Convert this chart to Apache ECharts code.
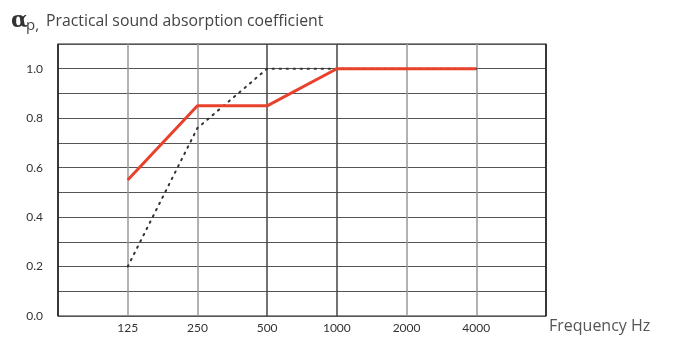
<!DOCTYPE html>
<html>
<head>
<meta charset="utf-8">
<script src="https://cdn.jsdelivr.net/npm/echarts@6/dist/echarts.min.js"></script>
<style>html,body{margin:0;padding:0;background:#fff}#c{width:682px;height:362px}</style>
</head>
<body>
<div id="c"></div>
<script>
const categories = ['', '125', '250', '500', '1000', '2000', '4000', ''];
const solidValues = [null, 0.55, 0.85, 0.85, 1.0, 1.0, 1.0, null];
const dottedValues = [null, 0.2, 0.76, 1.0, 1.0, 1.0, 1.0, null];
const yTicks = [0, 0.2, 0.4, 0.6, 0.8, 1.0];

const chart = echarts.init(document.getElementById('c'));
const font = 'Lato, "DejaVu Sans", sans-serif';
const tfont = '"Open Sans", Lato, sans-serif';
chart.setOption({
  animation: false,
  backgroundColor: '#fff',
  grid: {left: 58, right: 136, top: 44, bottom: 46, show: true, borderColor: '#222', borderWidth: 1.2},
  graphic: [
    {type: 'text', left: 11, top: 10, style: {text: 'α', font: 'bold 22px "DejaVu Serif", serif', fill: '#333'}},
    {type: 'text', left: 26, top: 18, style: {text: 'p,', font: '15px ' + tfont, fill: '#444'}},
    {type: 'text', left: 46, top: 13, style: {text: 'Practical sound absorption coefficient', font: '15.8px ' + tfont, fill: '#444'}},
    {type: 'text', left: 549, top: 318, style: {text: 'Frequency Hz', font: '16px ' + tfont, fill: '#555'}}
  ],
  xAxis: {
    type: 'category', data: categories, boundaryGap: false,
    axisLine: {show: false}, axisTick: {show: false},
    axisLabel: {color: '#333', fontFamily: font, fontSize: 12, margin: 6, interval: 0},
    splitLine: {show: true, lineStyle: {color: ['#222', '#999', '#999', '#444', '#444', '#999', '#999', '#222'], width: 1.5}}
  },
  yAxis: {
    type: 'value', min: 0, max: 1.1, interval: 0.1,
    axisLine: {show: false}, axisTick: {show: false},
    axisLabel: {color: '#333', fontFamily: font, fontSize: 12, margin: 15,
      formatter: v => yTicks.some(t => Math.abs(t - v) < 1e-6) ? v.toFixed(1) : ''},
    splitLine: {show: true, lineStyle: {color: '#555', width: 1.2}}
  },
  series: [
    {type: 'line', data: dottedValues, symbol: 'none', connectNulls: false,
     lineStyle: {color: '#333', width: 2, type: [1.5, 5.5], cap: 'round'}, z: 2},
    {type: 'line', data: solidValues, symbol: 'none',
     lineStyle: {color: '#e8412c', width: 3}, z: 3}
  ]
});
</script>
</body>
</html>
